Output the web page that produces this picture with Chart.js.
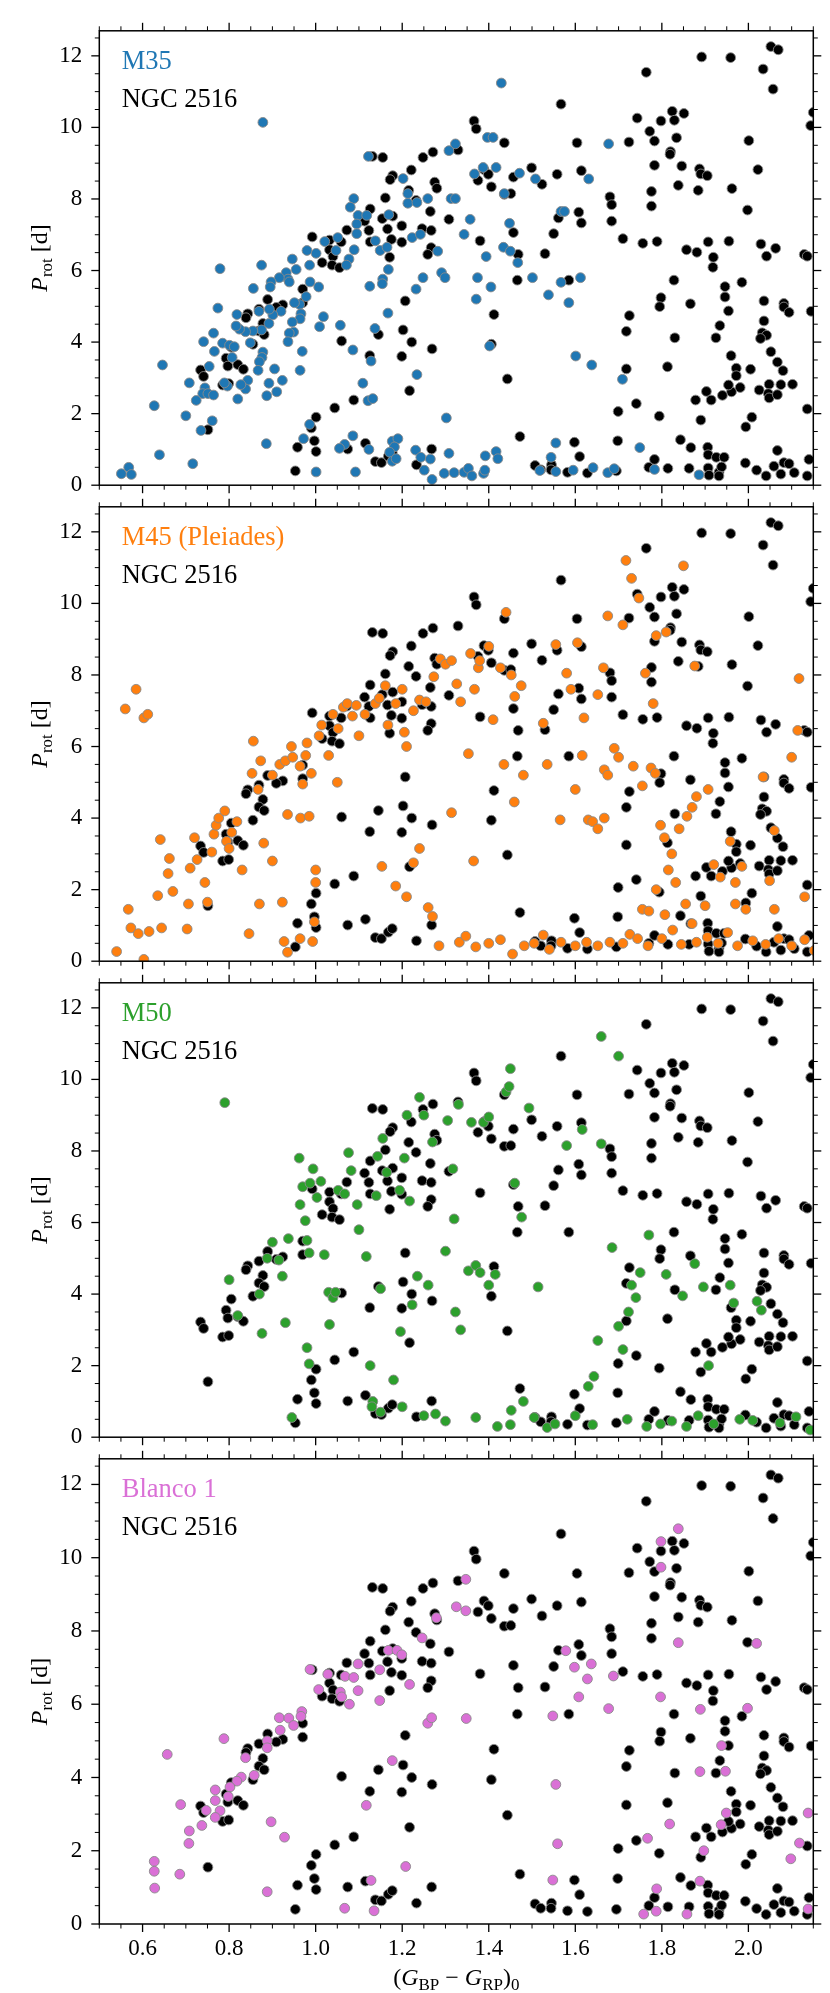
<!DOCTYPE html>
<html><head><meta charset="utf-8">
<script src="https://cdn.jsdelivr.net/npm/chart.js@4.4.1/dist/chart.umd.min.js"></script>
<style>
html,body{margin:0;padding:0;background:#fff;}
#wrap{position:relative;width:830px;height:1993px;overflow:hidden;background:#fff;}
#wrap canvas{position:absolute;left:0;}
</style>
</head><body><div id="wrap"></div>
<script>
// ---------- axes ----------
const X_RANGE = [0.5, 2.15];
const Y_RANGE = [0, 12.7];
const xTickLabels = [0.6, 0.8, 1.0, 1.2, 1.4, 1.6, 1.8, 2.0];
const yTickLabels = [0, 2, 4, 6, 8, 10, 12];
const clusterNames = ['M35', 'M45 (Pleiades)', 'M50', 'Blanco 1'];
const clusterColors = ['#1f77b4', '#ff7f0e', '#2ca02c', '#da70d6'];
const referenceName = 'NGC 2516';

// ---------- data: [(G_BP - G_RP)_0, P_rot] ----------
const NGC2516 = [
[1.131,9.19],[1.155,9.16],[1.248,9.16],[1.271,9.31],[1.329,9.37],[1.221,8.81],[1.178,8.65],[1.172,8.54],[1.275,8.47],[1.280,8.30],[1.161,8.03],[1.215,8.24],[1.232,7.96],[1.126,7.72],[1.265,7.65],[1.308,7.43],[1.154,7.45],[1.113,7.38],[1.178,7.52],[1.199,7.25],[1.166,7.16],[1.123,7.12],[1.072,7.13],[1.246,7.17],[1.267,7.12],[1.126,6.80],[1.175,6.87],[1.199,6.79],[1.059,6.80],[0.992,6.94],[1.032,6.85],[1.267,6.64],[1.259,6.45],[1.032,6.58],[1.171,6.37],[1.040,6.39],
[2.052,12.26],[2.069,12.17],[1.892,11.97],[1.959,11.95],[2.034,11.63],[2.057,11.07],[1.764,11.54],[1.567,10.65],[2.150,10.42],[2.144,10.05],[1.743,10.26],[1.824,10.45],[1.851,10.39],[1.798,10.18],[1.829,10.20],[1.772,9.89],[1.783,9.62],[1.834,9.71],[1.724,9.59],[1.604,9.57],[1.436,9.57],[1.366,10.18],[1.371,9.96],[2.001,9.63],[1.820,9.32],[1.819,9.25],[1.783,8.94],[1.846,8.92],[1.887,8.84],[1.890,8.70],[1.905,8.65],[2.022,8.82],[1.389,8.82],[1.399,8.69],[1.375,8.52],[1.406,8.34],[1.457,8.61],[1.499,8.87],[1.558,8.69],[1.614,8.79],[1.523,8.41],[1.436,8.13],[1.451,8.15],[1.838,8.38],[1.776,8.21],[1.884,8.24],[1.962,8.29],[1.680,8.06],[1.684,7.84],[1.776,7.80],[1.998,7.69],[1.561,7.47],[1.608,7.63],[1.614,7.33],[1.684,7.38],[1.457,7.06],[1.550,7.03],[1.380,6.83],[1.710,6.89],[1.756,6.76],[1.789,6.81],[1.857,6.58],[1.881,6.51],[1.907,6.80],[1.955,6.82],[2.029,6.74],[2.063,6.62],[1.468,6.45],[1.530,6.47],[2.042,6.40],[2.129,6.45],[2.136,6.40],[1.919,6.37],
[1.015,6.22],[1.038,6.15],[1.055,6.08],[0.970,5.48],[0.970,5.10],[0.924,5.04],[0.909,4.97],[0.889,5.19],[0.869,4.92],[0.843,4.79],[0.839,4.68],[0.878,4.52],[0.869,4.31],[0.881,4.21],[0.855,3.94],[0.805,3.86],[0.793,3.55],[0.797,3.33],[0.820,3.37],[0.833,3.24],[0.734,3.22],[0.741,3.04],[0.785,2.80],[0.799,2.84],[0.751,1.55],[1.207,5.15],[1.202,4.34],[1.145,4.21],[1.222,4.00],[1.269,3.81],[1.125,3.62],[1.199,3.60],[1.060,4.03],[1.217,2.64],[1.088,2.38],[1.044,2.16],[1.001,1.90],[0.990,1.60],[0.997,1.24],[1.001,0.94],[0.958,1.06],[0.953,0.40],[1.074,1.01],[1.115,1.17],[1.138,0.66],[1.152,0.63],[1.168,0.81],[1.177,0.91],[1.233,0.57],[1.268,1.01],
[1.918,6.09],[1.466,5.73],[1.585,5.73],[1.828,5.73],[1.985,5.67],[1.946,5.55],[1.946,5.26],[1.798,5.24],[1.795,4.99],[1.866,5.07],[2.036,5.15],[2.082,5.08],[2.082,4.98],[2.094,4.83],[2.145,4.86],[1.954,4.87],[1.412,4.77],[1.725,4.74],[1.718,4.30],[1.830,4.12],[1.934,4.46],[1.925,4.12],[2.036,4.59],[2.032,4.26],[2.042,4.19],[2.028,4.10],[2.052,3.73],[1.960,3.62],[2.067,3.44],[2.080,3.20],[1.972,3.27],[1.972,3.06],[2.005,3.24],[1.406,3.94],[1.718,3.25],[1.813,3.31],[1.443,2.97],[1.981,2.73],[2.025,2.66],[2.048,2.82],[2.075,2.81],[2.102,2.82],[2.046,2.56],[2.048,2.44],[2.067,2.53],[1.961,2.61],[1.940,2.51],[1.954,2.80],[1.903,2.62],[1.914,2.38],[1.878,2.38],[1.741,2.28],[1.699,2.06],[1.794,1.93],[1.890,1.82],[1.994,1.63],[2.008,1.90],[2.136,2.13],[1.472,1.36],[1.598,1.20],[1.698,1.24],[1.610,0.80],[1.843,1.27],[1.867,1.05],[1.906,1.06],[1.907,0.85],[1.926,0.78],[1.944,0.78],[2.067,0.97],[1.993,0.62],[2.019,0.42],[2.041,0.26],[2.059,0.53],[2.082,0.63],[2.094,0.60],[2.075,0.31],[2.106,0.35],[2.140,0.72],[2.136,0.26],[1.507,0.55],[1.520,0.43],[1.545,0.57],[1.544,0.43],[1.582,0.36],[1.628,0.34],[1.695,0.40],[1.770,0.50],[1.783,0.72],[1.814,0.47],[1.863,0.47],[1.907,0.48],[1.909,0.28],[1.932,0.36],[1.938,0.51],[1.932,0.26]
];

const M35 = [
[0.878,10.14],[1.122,9.19],[1.429,11.24],
[1.202,8.57],[1.213,8.15],[1.213,7.88],[1.088,8.01],[1.080,7.77],[1.098,7.54],[1.118,7.54],[1.169,7.56],[1.095,7.30],[1.095,7.03],[1.051,6.92],[1.021,6.81],[1.047,6.56],[1.138,6.83],[1.149,6.56],[1.165,6.65],[1.168,6.03],[1.155,5.76],[1.154,5.63],[1.125,5.56],[1.089,6.58],[1.077,6.32],[1.071,6.15],[1.001,6.48],[0.980,6.56],[0.986,6.15],[0.946,6.32],[0.955,6.03],[0.932,5.94],[0.936,5.76],[0.939,5.68],[0.916,5.80],[0.897,5.68],[0.895,5.54],[0.856,5.50],[0.875,6.15],[0.779,6.05],[0.987,5.68],[1.007,5.54],[0.978,5.27],[0.963,5.05],[0.951,5.10],[0.966,4.79],[0.964,4.65],[0.946,4.56],[0.949,4.28],[0.939,4.25],[0.936,4.01],[0.920,4.86],[0.901,4.76],[0.893,4.92],[0.869,4.86],[0.818,4.77],[0.892,4.52],[0.875,4.34],[0.855,4.31],[0.838,4.29],[0.824,4.36],[0.816,4.45],[0.849,3.98],[0.774,4.95],[0.764,4.25],[0.741,4.01],[0.766,3.74],[0.785,3.97],[0.801,3.91],[0.812,3.87],[0.807,3.57],[0.878,3.72],[0.876,3.57],[0.870,3.45],[0.867,3.21],[0.905,3.25],[0.892,2.85],[0.923,2.93],[0.910,2.61],[0.887,2.50],[0.843,2.93],[0.838,2.69],[0.827,2.81],[0.820,2.41],[0.796,2.77],[0.789,2.86],[0.754,3.32],[0.708,2.86],[0.744,2.72],[0.739,2.56],[0.751,2.56],[0.764,2.52],[0.724,2.37],[0.969,3.74],[0.964,3.21],[1.009,4.43],[1.018,4.71],[1.057,4.47],[1.086,3.78],[1.137,4.38],[1.167,4.81],[1.128,3.47],[1.109,2.85],[1.121,2.36],[1.132,2.42],[0.646,3.36],[0.627,2.22],[0.700,1.94],[0.761,1.80],[0.735,1.53],[0.886,1.16],[0.972,1.30],[0.986,1.70],[0.639,0.85],[0.716,0.60],[0.551,0.32],[0.568,0.50],[0.574,0.30],[1.067,1.14],[1.055,1.03],[1.086,1.38],[1.123,1.00],[1.001,0.37],[1.092,0.37],[1.177,1.23],[1.190,1.30],[1.182,1.07],[1.171,0.92],[1.177,0.67],[1.186,0.74],
[1.234,7.90],[1.259,8.01],[1.308,9.35],[1.323,9.54],[1.397,9.72],[1.410,9.72],[1.367,8.70],[1.387,8.88],[1.417,8.88],[1.471,8.72],[1.508,8.56],[1.631,8.56],[1.677,9.54],[1.436,8.15],[1.313,8.01],[1.323,8.01],[1.357,7.43],[1.343,7.01],[1.223,6.92],[1.242,7.01],[1.282,6.54],[1.448,7.32],[1.434,6.65],[1.450,6.54],[1.467,6.22],[1.394,6.39],[1.291,5.94],[1.299,5.80],[1.248,5.80],[1.232,5.48],[1.374,5.80],[1.405,5.54],[1.371,5.20],[1.501,5.80],[1.567,7.65],[1.575,7.65],[1.567,5.67],[1.612,5.80],[1.538,5.32],[1.585,5.10],[1.402,3.89],[1.601,3.61],[1.638,3.36],[1.709,2.96],[1.234,3.09],[1.302,1.88],[1.231,0.98],[1.243,0.78],[1.265,0.73],[1.308,0.89],[1.251,0.42],[1.269,0.16],[1.297,0.33],[1.320,0.35],[1.343,0.36],[1.353,0.47],[1.361,0.26],[1.388,0.33],[1.391,0.42],[1.392,0.82],[1.417,0.94],[1.421,0.74],[1.518,0.41],[1.544,0.78],[1.555,1.18],[1.555,0.38],[1.595,0.42],[1.641,0.49],[1.675,0.35],[1.690,0.46],[1.749,1.05],[1.783,0.44],[1.886,0.29]
];

const M45 = [
[0.56,7.05],[0.585,7.6],[0.603,6.8],[0.612,6.9],
[0.54,0.27],[0.567,1.45],[0.573,0.93],[0.603,0.05],[0.59,0.77],[0.615,0.83],[0.635,1.83],[0.644,0.93],[0.641,3.4],[0.659,2.45],[0.662,2.87],[0.67,1.95],[0.706,1.6],[0.703,0.9],[0.71,2.6],[0.726,2.84],[0.72,3.45],[0.744,2.2],[0.75,1.65],[0.76,3.05],[0.765,3.55],[0.77,3.8],[0.776,4.0],[0.79,4.2],[0.794,3.35],[0.80,3.15],[0.806,3.6],[0.818,3.9],[0.83,2.55],[0.853,5.25],[0.856,6.15],[0.867,4.8],[0.873,5.6],[0.88,3.3],[0.90,5.2],[0.90,2.8],[0.917,5.5],[0.93,5.6],[0.935,4.1],[0.944,6.0],[0.947,5.7],[0.964,5.45],[0.97,4.95],[0.977,5.75],[0.98,6.1],[0.99,5.25],[0.993,0.55],[0.997,1.1],[1.0,2.55],[1.0,2.2],[0.927,0.55],[0.935,0.25],[0.965,4.0],[0.985,4.05],
[1.008,6.3],[1.014,6.6],[1.03,5.75],[1.04,6.9],[1.052,6.5],[1.064,7.1],[1.073,7.2],[1.085,6.85],[1.094,7.15],[1.10,6.3],[1.114,6.9],[1.138,7.2],[1.147,7.35],[1.161,7.7],[1.167,6.6],[1.185,7.2],[1.20,7.6],[1.205,6.4],[1.21,6.0],[1.226,7.0],[1.24,7.3],[1.255,7.25],[1.273,7.95],[1.288,8.45],[1.30,8.3],[1.314,8.4],[1.326,7.75],[1.335,7.25],[1.358,8.6],[1.367,7.6],[1.376,8.2],[1.379,8.4],[1.40,8.8],[1.427,8.2],[1.452,8.0],[1.46,7.4],[1.475,7.7],[1.44,9.75],[1.555,8.85],[1.58,8.05],[1.59,7.6],[1.605,8.9],[1.62,6.8],[1.652,7.45],[1.665,8.2],[1.675,9.65],[1.71,9.4],[1.717,11.2],[1.73,10.7],[1.747,10.15],[1.762,8.05],[1.78,7.2],[1.787,9.1],[1.81,9.2],[1.85,11.05],[1.876,8.25],
[1.05,5.0],[1.153,2.65],[1.185,2.1],[1.21,1.8],[1.226,2.75],[1.24,3.15],[1.27,1.25],[1.314,4.15],[1.353,5.8],[1.365,2.8],[1.41,6.75],[1.435,5.5],[1.459,4.45],[1.48,5.2],[1.526,6.65],[1.535,5.5],[1.565,3.95],[1.60,4.8],[1.616,5.75],[1.63,3.95],[1.64,3.9],[1.652,3.7],[1.667,4.0],[1.667,5.35],[1.675,5.2],[1.69,5.95],[1.70,5.7],
[1.734,5.45],[1.755,4.9],[1.775,5.4],[1.785,5.25],[1.797,3.8],[1.806,3.45],[1.815,2.55],[1.823,3.0],[1.832,2.2],[1.84,3.7],[1.858,4.05],[1.87,4.3],[1.88,4.6],[1.907,4.8],[1.92,2.7],[1.935,2.35],[1.958,3.35],[1.97,2.2],[1.985,2.65],[2.034,5.15],[2.049,2.25],[2.06,3.65],[2.1,5.7],[2.114,6.45],[2.117,7.9],[2.13,1.8],
[1.285,0.43],[1.332,0.53],[1.347,0.7],[1.37,0.4],[1.40,0.5],[1.427,0.6],[1.455,0.2],[1.482,0.43],[1.505,0.5],[1.526,0.73],[1.54,0.33],[1.567,0.53],[1.60,0.43],[1.626,0.53],[1.652,0.43],[1.68,0.53],[1.71,0.5],[1.726,0.75],[1.744,0.63],[1.768,0.43],[1.80,0.63],[1.825,0.87],[1.845,0.47],[1.88,0.53],[1.905,0.67],[1.93,0.5],[1.952,0.8],[1.975,0.43],[2.01,0.57],[2.04,0.47],[2.07,0.63],[2.1,0.43],[2.13,0.6],[2.152,0.3],
[1.26,1.5],[1.755,1.45],[1.77,1.4],[1.787,2.0],[1.807,1.3],[1.855,1.6],[1.87,1.05],[1.90,1.55],[1.97,1.6],[1.994,1.45],[2.06,1.45],
[0.846,0.77],[0.87,1.6],[0.923,1.65],[0.964,0.63]
];

const M50 = [
[0.79,9.35],[0.80,4.4],[0.82,3.4],[0.87,4.0],[0.876,2.9],[0.888,5.0],[0.9,5.45],[0.915,4.95],[0.923,4.5],[0.93,3.2],[0.937,5.55],[0.945,0.55],[0.962,7.8],[0.964,6.5],[0.97,7.0],[0.976,6.05],[0.98,5.5],[0.985,5.15],[0.98,2.5],[0.985,2.05],[0.987,7.1],[0.994,7.5],[1.003,6.7],[1.012,7.15],[1.02,5.1],[1.03,4.05],[1.032,3.15],[1.04,3.9],[1.046,4.05],[1.052,6.9],[1.067,6.8],[1.076,7.95],[1.082,7.45],[1.096,6.5],[1.10,5.8],[1.117,5.05],[1.126,2.0],[1.132,1.0],[1.14,6.75],[1.143,7.85],[1.15,4.15],[1.155,8.35],[1.164,7.4],[1.18,1.6],[1.194,6.9],[1.196,2.95],[1.205,7.8],[1.211,9.0],[1.217,6.6],[1.223,3.7],[1.235,4.5],[1.24,9.5],[1.25,9.0],[1.26,4.25],[1.27,8.25],[1.277,0.65],[1.30,5.2],[1.305,8.85],[1.317,7.5],[1.323,3.5],[1.33,9.3],[1.335,3.0],[1.353,4.65],[1.36,8.8],[1.37,4.8],[1.38,4.6],[1.388,8.8],[1.40,8.95],[1.40,4.25],[1.415,4.55],[1.42,0.3],[1.44,9.65],[1.447,9.8],[1.45,10.3],[1.452,0.75],[1.46,7.1],[1.476,6.15],[1.48,1.0],[1.493,9.2],[1.505,0.55],[1.514,4.2],[1.535,0.27],[1.553,0.37],[1.58,8.15],[1.60,0.6],[1.616,8.6],[1.63,1.42],[1.643,1.7],[1.652,2.7],[1.66,8.2],[1.66,11.2],[1.70,10.65],[1.685,5.3],[1.70,3.1],[1.71,2.45],[1.723,3.5],[1.73,4.25],[1.74,3.9],[1.75,4.6],[1.765,0.3],[1.77,5.65],[1.797,0.37],[1.81,4.55],[1.823,0.45],[1.848,3.95],[1.857,0.3],[1.876,4.85],[1.884,0.6],[1.896,4.2],[1.908,2.0],[1.92,0.37],[1.958,4.25],[1.966,3.75],[1.98,0.5],[2.01,0.47],[2.073,0.4],[2.11,0.57],[2.143,0.2],
[1.13,0.85],[1.15,0.7],[1.2,0.85],[1.25,0.6],[1.3,0.45],[1.37,0.55],[1.45,0.35],[1.64,0.35],[1.72,0.5],[2.02,3.8],[2.03,3.55],[1.32,6.1]
];

const BLANCO1 = [
[1.325,8.66],[1.279,8.36],[1.246,7.81],[1.168,7.47],[1.188,7.47],[1.199,7.35],[1.098,7.10],[1.148,6.94],[0.987,6.95],[1.028,6.82],[1.068,6.76],[1.088,6.73],[1.217,6.54],[1.007,6.40],[1.098,6.37],[1.057,6.33],
[1.838,10.79],[1.798,10.44],[1.798,9.74],[1.347,9.41],[1.347,8.55],[1.838,7.68],[2.019,7.66],[1.578,7.46],[1.598,7.01],[1.637,7.10],[1.628,6.69],[1.688,6.77],
[1.060,6.20],[1.078,6.00],[1.148,6.10],[1.259,5.48],[1.268,5.63],[0.968,5.80],[0.966,5.67],[0.916,5.63],[0.938,5.62],[0.949,5.42],[0.918,5.29],[0.888,5.00],[0.888,4.81],[0.838,4.54],[0.858,4.06],[0.828,4.01],[0.818,3.90],[0.802,3.74],[0.798,3.48],[0.768,3.66],[0.768,3.37],[0.779,3.09],[0.768,2.91],[0.747,3.10],[0.737,2.69],[0.708,2.54],[0.707,2.20],[0.688,3.26],[0.788,5.06],[0.657,4.63],[0.627,1.71],[0.627,1.44],[0.686,1.36],[0.628,0.98],[0.888,0.88],[0.897,2.79],[0.928,2.37],[1.117,3.24],[1.177,4.46],[1.208,1.57],[1.128,1.19],[1.067,0.43],[1.135,0.36],
[1.348,5.61],[1.608,6.20],[1.797,6.20],[1.677,5.88],[1.548,5.68],[1.889,5.86],[1.998,5.89],[1.938,4.87],[1.888,4.16],[1.947,4.17],[1.555,3.81],[1.949,3.03],[1.937,2.71],[1.818,2.73],[1.767,2.34],[1.897,2.00],[1.559,2.19],[2.118,2.21],[2.138,3.03],[2.098,1.78],[1.548,1.20],[1.788,0.96],[1.888,1.17],[1.758,0.27],[1.787,0.35],[1.858,0.27],[2.138,0.41]
];

const clusterData = [M35, M45, M50, BLANCO1];

// ---------- layout ----------
const W = 830, H_TOTAL = 1993;
const PLOT_LEFT = 99.3, PLOT_RIGHT = 813.3;
const PANEL_H = 476, TOP_MARGIN = 20;
const FONT = '"Liberation Serif", "DejaVu Serif", serif';

function drawRich(ctx, segs, x, y) {
  let w = 0;
  for (const s of segs) { ctx.font = s.f; s.w = ctx.measureText(s.t).width; w += s.w; }
  let cx = x - w / 2;
  for (const s of segs) { ctx.font = s.f; ctx.fillText(s.t, cx, y + (s.dy || 0)); cx += s.w; }
}

const framePlugin = {
  id: 'frame',
  afterDraw(chart, args, opts) {
    const ctx = chart.ctx, a = chart.chartArea, xs = chart.scales.x, ys = chart.scales.y;
    ctx.save();
    ctx.strokeStyle = '#000';
    ctx.lineCap = 'butt';
    const line = (x1, y1, x2, y2, w) => { ctx.lineWidth = w; ctx.beginPath(); ctx.moveTo(x1, y1); ctx.lineTo(x2, y2); ctx.stroke(); };
    for (let i = 0; i <= 33; i++) {
      const v = Math.round((X_RANGE[0] + i * 0.05) * 100) / 100;
      if (v > X_RANGE[1] + 1e-9) break;
      const major = xTickLabels.some(t => Math.abs(t - v) < 1e-6);
      const L = major ? 8 : 4.5, lw = major ? 1.3 : 1;
      const px = xs.getPixelForValue(v);
      line(px, a.top, px, a.top - L, lw);
      line(px, a.bottom, px, a.bottom + L, lw);
    }
    for (let i = 0; i <= 25; i++) {
      const v = i * 0.5;
      const major = yTickLabels.includes(v);
      const L = major ? 8 : 4.5, lw = major ? 1.3 : 1;
      const py = ys.getPixelForValue(v);
      line(a.left, py, a.left - L, py, lw);
      line(a.right, py, a.right + L, py, lw);
    }
    ctx.lineWidth = 1.5;
    ctx.strokeRect(a.left, a.top, a.right - a.left, a.bottom - a.top);

    ctx.textBaseline = 'alphabetic';
    ctx.textAlign = 'left';
    ctx.font = '26.5px ' + FONT;
    ctx.fillStyle = opts.color;
    ctx.fillText(opts.name, a.left + 22.4, a.top + 38.3);
    ctx.fillStyle = '#000';
    ctx.fillText(referenceName, a.left + 22.4, a.top + 75.7);

    ctx.save();
    ctx.translate(47, (a.top + a.bottom) / 2);
    ctx.rotate(-Math.PI / 2);
    drawRich(ctx, [
      { t: 'P', f: 'italic 24px ' + FONT },
      { t: 'rot', f: '17px ' + FONT, dy: 4.5 },
      { t: ' [d]', f: '24px ' + FONT }
    ], 0, 0);
    ctx.restore();

    if (opts.last) {
      drawRich(ctx, [
        { t: '(', f: '24px ' + FONT },
        { t: 'G', f: 'italic 24px ' + FONT },
        { t: 'BP', f: '17px ' + FONT, dy: 4.5 },
        { t: ' \u2212 ', f: '24px ' + FONT },
        { t: 'G', f: 'italic 24px ' + FONT },
        { t: 'RP', f: '17px ' + FONT, dy: 4.5 },
        { t: ')', f: '24px ' + FONT },
        { t: '0', f: '17px ' + FONT, dy: 4.5 }
      ], (a.left + a.right) / 2, a.bottom + 61);
    }
    ctx.restore();
  }
};

const wrap = document.getElementById('wrap');
for (let k = 0; k < 4; k++) {
  const last = k === 3;
  const cTop = k * PANEL_H;
  const cH = last ? H_TOTAL - cTop : PANEL_H + 2 * TOP_MARGIN;
  const cv = document.createElement('canvas');
  cv.width = W; cv.height = cH;
  cv.style.top = cTop + 'px';
  cv.style.width = W + 'px'; cv.style.height = cH + 'px';
  wrap.appendChild(cv);
  const xAxisH = last ? cH - TOP_MARGIN - PANEL_H : 0;
  const toPts = arr => arr.map(p => ({ x: p[0], y: p[1] }));
  new Chart(cv, {
    type: 'scatter',
    data: {
      datasets: [
        { label: clusterNames[k], data: toPts(clusterData[k]), backgroundColor: clusterColors[k],
          borderColor: '#8a8a8a', borderWidth: 0.9, pointRadius: 4.9, pointHoverRadius: 4.9, clip: 0 },
        { label: referenceName, data: toPts(NGC2516), backgroundColor: '#000000',
          borderColor: '#8a8a8a', borderWidth: 0.9, pointRadius: 4.9, pointHoverRadius: 4.9, clip: 0 }
      ]
    },
    options: {
      responsive: false, animation: false, devicePixelRatio: 1, events: [],
      layout: { padding: { left: 0, right: W - PLOT_RIGHT, top: TOP_MARGIN, bottom: last ? 0 : TOP_MARGIN } },
      plugins: { legend: { display: false }, tooltip: { enabled: false },
        frame: { name: clusterNames[k], color: clusterColors[k], last } },
      scales: {
        x: {
          type: 'linear', position: 'bottom', min: X_RANGE[0], max: X_RANGE[1],
          grid: { display: false, drawTicks: false }, border: { display: false },
          afterBuildTicks: s => { s.ticks = xTickLabels.map(v => ({ value: v })); },
          afterFit: s => { s.height = xAxisH; },
          ticks: { display: last, autoSkip: false, maxRotation: 0, padding: 11, color: '#000',
            font: { family: FONT, size: 23 }, callback: v => Number(v).toFixed(1) }
        },
        y: {
          type: 'linear', position: 'left', min: Y_RANGE[0], max: Y_RANGE[1],
          grid: { display: false, drawTicks: false }, border: { display: false },
          afterBuildTicks: s => { s.ticks = yTickLabels.map(v => ({ value: v })); },
          afterFit: s => { s.width = PLOT_LEFT; },
          ticks: { autoSkip: false, padding: 17, color: '#000',
            font: { family: FONT, size: 23 }, callback: v => String(v) }
        }
      }
    },
    plugins: [framePlugin]
  });
}
</script>
</body></html>
